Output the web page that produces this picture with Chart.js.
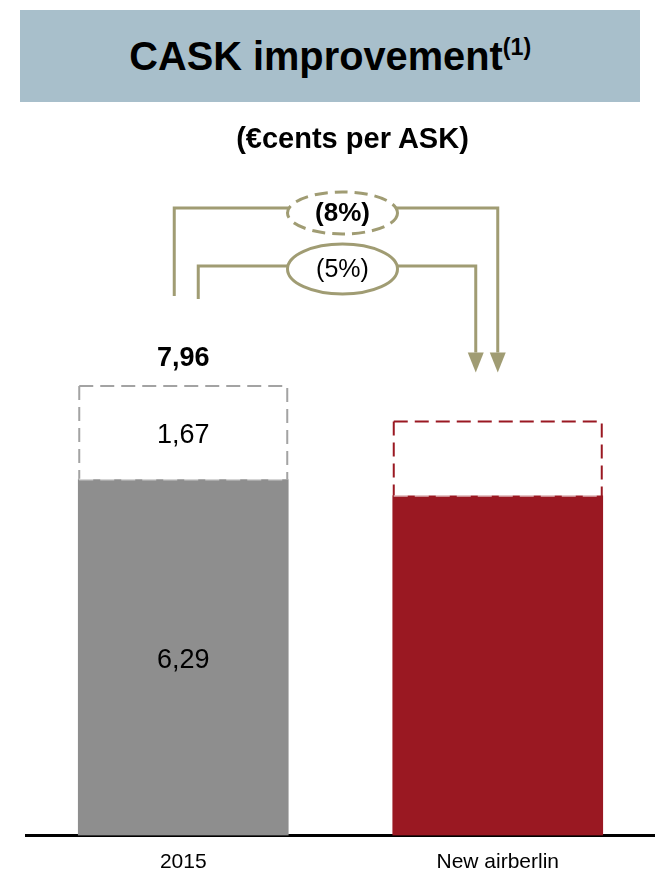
<!DOCTYPE html>
<html>
<head>
<meta charset="utf-8">
<script src="https://cdn.jsdelivr.net/npm/chart.js@4.4.0/dist/chart.umd.min.js"></script>
<style>
  body { margin: 0; background: #fff; font-family: "Liberation Sans", Arial, sans-serif; }
  #wrap { position: relative; width: 655px; height: 873px; }
  #chart { position: absolute; left: 0; top: 0; }
  #title { position: absolute; left: 20px; top: 10px; width: 620px; height: 92px; background: #a8bfcb;
           text-align: center; font-weight: bold; font-size: 41px; line-height: 92px; color: #000; }
  #title span { display: inline-block; transform: scaleX(0.97); }
  #title sup { font-size: 24px; vertical-align: 15px; line-height: 0; }
  #subtitle { position: absolute; left: 50px; width: 605px; top: 120px; height: 36px; line-height: 36px;
              text-align: center; font-weight: bold; font-size: 29px; color: #000; }
</style>
</head>
<body>
<div id="wrap">
  <canvas id="chart" width="655" height="873"></canvas>
  <div id="title"><span>CASK improvement<sup>(1)</sup></span></div>
  <div id="subtitle">(€cents per ASK)</div>
</div>
<script>
const categories = ['2015', 'New airberlin'];
const baseCost = [6.29, 6.00];
const extraCost = [1.67, 1.33];

const FONT = '"Liberation Sans", Arial, sans-serif';
const OLIVE = '#a09c73';
const barColors = ['#8e8e8e', '#9a1822'];
const dashColors = ['#a3a3a3', '#9a1822'];

const totals = baseCost.map((v, i) => v + extraCost[i]);
const fmt = v => v.toFixed(2).replace('.', ',');
const pct = (from, to) => '(' + Math.round(Math.abs((to - from) / from * 100)) + '%)';

// elbow connector from the 2015 bar down onto the new bar, ending in an arrowhead
function drawBracket(ctx, xs, ys, yh, xe, tip) {
  ctx.setLineDash([]);
  ctx.lineWidth = 3;
  ctx.strokeStyle = OLIVE;
  ctx.fillStyle = OLIVE;
  ctx.lineJoin = 'miter';
  ctx.beginPath();
  ctx.moveTo(xs, ys);
  ctx.lineTo(xs, yh);
  ctx.lineTo(xe, yh);
  ctx.lineTo(xe, tip - 20);
  ctx.stroke();
  ctx.beginPath();
  ctx.moveTo(xe - 8, tip - 20);
  ctx.lineTo(xe + 8, tip - 20);
  ctx.lineTo(xe, tip);
  ctx.closePath();
  ctx.fill();
}

function drawBubble(ctx, cx, cy, rx, ry, dashed, text, bold) {
  ctx.beginPath();
  ctx.ellipse(cx, cy, rx, ry, 0, 0, Math.PI * 2);
  ctx.fillStyle = '#fff';
  ctx.fill();
  ctx.lineWidth = 3;
  ctx.strokeStyle = OLIVE;
  ctx.setLineDash(dashed ? [13, 7] : []);
  ctx.stroke();
  ctx.setLineDash([]);
  ctx.fillStyle = '#000';
  ctx.font = (bold ? 'bold 26px ' : '25px ') + FONT;
  ctx.textAlign = 'center';
  ctx.textBaseline = 'middle';
  ctx.fillText(text, cx, cy + 1);
}

const overlay = {
  id: 'overlay',
  afterDatasetsDraw(chart) {
    const ctx = chart.ctx;
    const solid = chart.getDatasetMeta(0).data;
    const extra = chart.getDatasetMeta(1).data;
    ctx.save();

    // dashed outline around the upper segment
    extra.forEach((bar, i) => {
      const { x, y, base, width } = bar.getProps(['x', 'y', 'base', 'width'], true);
      const l = x - width / 2 + 1, r = x + width / 2 - 1, t = y + 1;
      ctx.lineWidth = 2;
      ctx.setLineDash([14, 7]);
      ctx.strokeStyle = dashColors[i];
      ctx.beginPath();
      ctx.moveTo(l, t); ctx.lineTo(r, t); ctx.lineTo(r, base);
      ctx.moveTo(l, t); ctx.lineTo(l, base);
      ctx.stroke();
      ctx.strokeStyle = 'rgba(255,255,255,0.5)';
      ctx.beginPath();
      ctx.moveTo(l, base); ctx.lineTo(r, base);
      ctx.stroke();
    });

    // value labels on the 2015 bar
    ctx.setLineDash([]);
    ctx.fillStyle = '#000';
    ctx.textAlign = 'center';
    ctx.textBaseline = 'alphabetic';
    const s0 = solid[0], e0 = extra[0];
    ctx.font = 'bold 27px ' + FONT;
    ctx.fillText(fmt(totals[0]), e0.x, e0.y - 19);
    ctx.font = '27px ' + FONT;
    ctx.fillText(fmt(extraCost[0]), e0.x, (e0.y + e0.base) / 2 + 11);
    ctx.fillText(fmt(baseCost[0]), s0.x, (s0.y + s0.base) / 2 + 11);

    // change connectors
    const top0 = extra[0].y, top1 = extra[1].y;
    const cx = (solid[0].x + solid[1].x) / 2 + 2;
    const tip = top1 - 48;
    drawBracket(ctx, solid[0].x - 9, top0 - 89, top0 - 177, solid[1].x, tip);
    drawBracket(ctx, solid[0].x + 15, top0 - 86, top0 - 119, solid[1].x - 22, tip);
    drawBubble(ctx, cx, top0 - 172, 55, 21, true, pct(totals[0], totals[1]), true);
    drawBubble(ctx, cx, top0 - 116, 55, 25, false, pct(baseCost[0], baseCost[1]), false);

    ctx.restore();
  }
};

new Chart(document.getElementById('chart'), {
  type: 'bar',
  data: {
    labels: categories,
    datasets: [
      { data: baseCost, backgroundColor: barColors, barThickness: 210 },
      { data: extraCost, backgroundColor: 'rgba(0,0,0,0)', barThickness: 210 }
    ]
  },
  options: {
    responsive: false,
    animation: false,
    layout: { padding: { left: 26, right: 0, top: 269.5, bottom: 0 } },
    plugins: { legend: { display: false }, tooltip: { enabled: false } },
    scales: {
      x: {
        stacked: true,
        z: 1,
        grid: { display: false, drawTicks: false },
        border: { display: true, color: '#000', width: 3 },
        ticks: { color: '#000', font: { family: FONT, size: 21 }, padding: 14 },
        afterFit: s => { s.height = 37.5; }
      },
      y: { stacked: true, display: false, min: 0, max: 10 }
    }
  },
  plugins: [overlay]
});
</script>
</body>
</html>
